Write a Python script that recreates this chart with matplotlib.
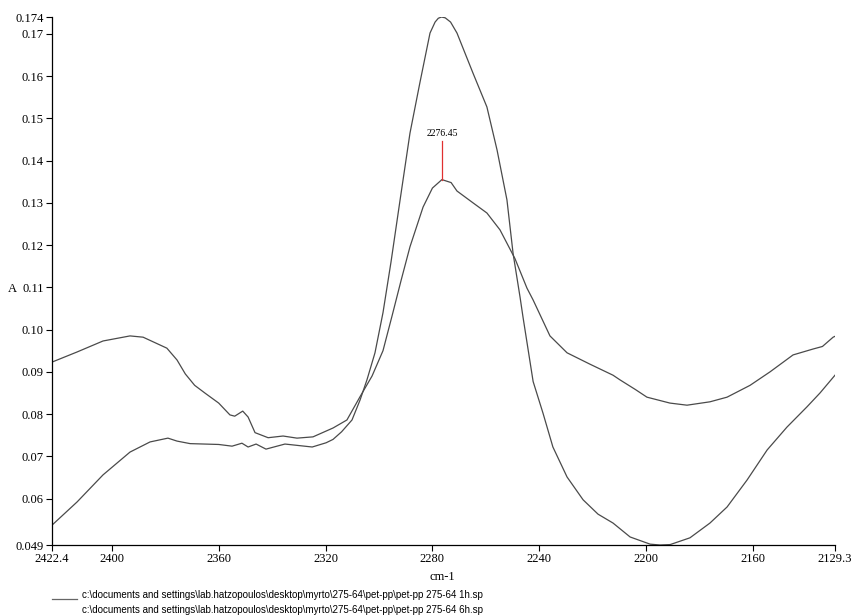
import numpy as np
import matplotlib
matplotlib.use('Agg')
import matplotlib.pyplot as plt

# spectrum 1 (higher peak)
wn_1 = [2422.4, 2413.0, 2403.3, 2393.2, 2385.7, 2379.0, 2375.6, 2370.7, 2360.0,
        2355.0, 2351.3, 2349.0, 2346.0, 2342.3, 2335.2, 2325.0, 2319.8, 2317.2,
        2314.0, 2310.1, 2307.1, 2304.5, 2301.5, 2298.5, 2295.5, 2292.1, 2288.4,
        2284.7, 2280.9, 2279.0, 2277.8, 2276.6, 2275.2, 2273.2, 2270.8, 2264.8,
        2259.6, 2255.8, 2252.1, 2249.8, 2247.2, 2246.1, 2242.3, 2238.6, 2234.9,
        2229.6, 2223.6, 2218.0, 2212.4, 2206.0, 2198.5, 2194.8, 2191.0, 2183.6,
        2176.1, 2169.7, 2162.2, 2154.7, 2147.3, 2139.8, 2134.9, 2129.3]
abs_1 = [0.0537, 0.0592, 0.0656, 0.0710, 0.0734, 0.0743, 0.0736, 0.0730, 0.0728,
         0.0724, 0.0731, 0.0722, 0.0729, 0.0717, 0.0729, 0.0722, 0.0732, 0.0740,
         0.0758, 0.0786, 0.0833, 0.0881, 0.0945, 0.1040, 0.1160, 0.1307, 0.1465,
         0.1584, 0.1702, 0.1728, 0.1737, 0.1740, 0.1738, 0.1728, 0.1702, 0.1607,
         0.1527, 0.1425, 0.1307, 0.1180, 0.1077, 0.1030, 0.0877, 0.0802, 0.0722,
         0.0651, 0.0597, 0.0563, 0.0542, 0.0509, 0.0492, 0.0490, 0.0491, 0.0507,
         0.0542, 0.0580, 0.0644, 0.0715, 0.0769, 0.0817, 0.0850, 0.0892]

# spectrum 2 (lower peak, 2276.45)
wn_2 = [2422.4, 2413.0, 2403.3, 2393.2, 2388.3, 2379.4, 2375.6, 2372.5, 2369.0,
        2365.0, 2360.0, 2355.8, 2354.0, 2351.0, 2349.0, 2346.4, 2341.5, 2335.9,
        2330.7, 2324.7, 2317.2, 2312.0, 2307.1, 2302.6, 2298.5, 2295.0, 2291.7,
        2288.4, 2283.5, 2280.0, 2276.45, 2273.0, 2270.8, 2264.8, 2259.6, 2254.7,
        2249.1, 2244.6, 2242.3, 2236.0, 2229.6, 2221.0, 2212.4, 2209.8, 2204.0,
        2199.7, 2191.1, 2184.7, 2176.1, 2169.7, 2161.1, 2153.6, 2145.0, 2137.5,
        2134.0, 2130.0, 2129.3]
abs_2 = [0.0923, 0.0947, 0.0973, 0.0985, 0.0982, 0.0956, 0.0928, 0.0895, 0.0868,
         0.0849, 0.0826, 0.0798, 0.0795, 0.0807, 0.0793, 0.0756, 0.0744, 0.0748,
         0.0743, 0.0746, 0.0767, 0.0786, 0.0841, 0.0890, 0.0950, 0.1035, 0.1117,
         0.1196, 0.1290, 0.1335, 0.1355, 0.1348, 0.1328, 0.1300, 0.1276, 0.1236,
         0.1168, 0.1098, 0.1070, 0.0985, 0.0945, 0.0918, 0.0892, 0.0881, 0.0858,
         0.0840, 0.0826, 0.0821, 0.0829, 0.0840, 0.0868, 0.0900, 0.0940, 0.0954,
         0.0960, 0.0982, 0.0984]

x_ticks = [2422.4, 2400, 2360, 2320, 2280, 2240, 2200, 2160, 2129.3]
x_labels = ['2422.4', '2400', '2360', '2320', '2280', '2240', '2200', '2160', '2129.3']
y_ticks = [0.049, 0.06, 0.07, 0.08, 0.09, 0.10, 0.11, 0.12, 0.13, 0.14, 0.15, 0.16, 0.17, 0.174]
y_labels = ['0.049', '0.06', '0.07', '0.08', '0.09', '0.10', '0.11', '0.12', '0.13',
            '0.14', '0.15', '0.16', '0.17', '0.174']
peak_wn = 2276.45
peak_abs = 0.1355
legend_labels = [
    r'c:\documents and settings\lab.hatzopoulos\desktop\myrto\275-64\pet-pp\pet-pp 275-64 1h.sp',
    r'c:\documents and settings\lab.hatzopoulos\desktop\myrto\275-64\pet-pp\pet-pp 275-64 6h.sp',
]

serif = 'Liberation Serif'
sans = 'Liberation Sans'

fig = plt.figure(figsize=(8.51, 6.16), dpi=100)
ax = fig.add_axes([52 / 851, 1 - 545 / 616, 783 / 851, 528 / 616])

ax.plot(wn_1, abs_1, color='#4a4a4a', lw=0.9, solid_joinstyle='round')
ax.plot(wn_2, abs_2, color='#4a4a4a', lw=0.9, solid_joinstyle='round')

# peak marker
ax.plot([peak_wn, peak_wn], [peak_abs, peak_abs + 0.0092], color='#e03030', lw=0.9)
ax.text(peak_wn, peak_abs + 0.0098, '2276.45', ha='center', va='bottom',
        fontsize=7, family=serif)

ax.set_xlim(2422.4, 2129.3)
ax.set_ylim(0.049, 0.174)
ax.set_xticks(x_ticks)
ax.set_xticklabels(x_labels, family=serif, fontsize=9)
ax.set_yticks(y_ticks)
ax.set_yticklabels(y_labels, family=serif, fontsize=9)
ax.tick_params(direction='out', length=4, width=0.8, pad=2)
for s in ['top', 'right']:
    ax.spines[s].set_visible(False)
for s in ['left', 'bottom']:
    ax.spines[s].set_linewidth(0.9)

fig.text(442 / 851, 1 - 577 / 616, 'cm-1', ha='center', va='center',
         fontsize=9, family=serif)
fig.text(12 / 851, 1 - 289 / 616, 'A', ha='center', va='center',
         fontsize=9, family=serif)

# legend drawn by hand, like the instrument printout
fig.add_artist(plt.Line2D([52 / 851, 77 / 851], [1 - 599 / 616, 1 - 599 / 616],
                          color='#666666', lw=0.9))
fig.text(82 / 851, 1 - 595 / 616, legend_labels[0], ha='left', va='center',
         fontsize=7, family=sans)
fig.text(82 / 851, 1 - 610 / 616, legend_labels[1], ha='left', va='center',
         fontsize=7, family=sans)

fig.savefig('out.png', dpi=100)
